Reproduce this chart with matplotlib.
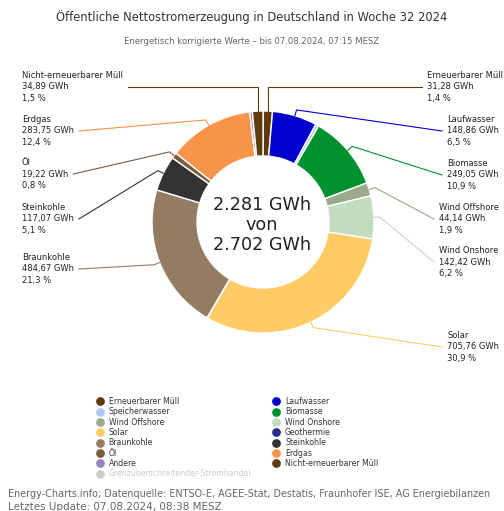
import matplotlib
matplotlib.use("Agg")
import matplotlib.pyplot as plt
from matplotlib.lines import Line2D
import numpy as np

# data (pie order, clockwise from 12 o'clock)
names = ["Erneuerbarer Müll", "Laufwasser", "Speicherwasser", "Biomasse",
         "Wind Offshore", "Wind Onshore", "Solar", "Geothermie", "Braunkohle",
         "Steinkohle", "Öl", "Erdgas", "Andere", "Nicht-erneuerbarer Müll"]
gwh = [31.28, 148.86, 10.5, 249.05, 44.14, 142.42, 705.76, 0.59, 484.67,
       117.07, 19.22, 283.75, 8.8, 34.89]
pct = [1.4, 6.5, 0.5, 10.9, 1.9, 6.2, 30.9, 0.0, 21.3, 5.1, 0.8, 12.4, 0.4, 1.5]
colors = ["#5e3a0c", "#0000cc", "#a9c8f5", "#00912f", "#9aab8d", "#c3dbbf",
          "#fecb65", "#2b2b8c", "#947c63", "#333333", "#7b5d3e", "#f7944a",
          "#9d80c2", "#5e3a0c"]
total_text = "2.281 GWh\nvon\n2.702 GWh"

legend_names = names + ["Grenzüberschreitender-Stromhandel"]
legend_colors = colors + ["#cccccc"]

# label layout: name -> (text x, middle line y, side)
label_layout = {
    "Nicht-erneuerbarer Müll": (22, 87, "left"),
    "Erdgas": (22, 131, "left"),
    "Öl": (22, 174, "left"),
    "Steinkohle": (22, 219, "left"),
    "Braunkohle": (22, 269, "left"),
    "Erneuerbarer Müll": (427, 87, "right"),
    "Laufwasser": (447, 131, "right"),
    "Biomasse": (447, 175, "right"),
    "Wind Offshore": (439, 219, "right"),
    "Wind Onshore": (439, 262, "right"),
    "Solar": (447, 347, "right"),
}

W, H = 504, 511
cx, cy, R, ring = 263, 222, 111, 45

fig = plt.figure(figsize=(W / 100, H / 100), dpi=100)
ax = fig.add_axes([0, 0, 1, 1])

wedges, _ = ax.pie(gwh, colors=colors, startangle=-90, counterclock=True,
                   radius=R, center=(cx, cy),
                   wedgeprops=dict(width=ring, edgecolor="white", linewidth=1))
ax.set_xlim(0, W)
ax.set_ylim(H, 0)
ax.set_aspect("auto")
ax.axis("off")

ax.text(262, 225, total_text, ha="center", va="center", fontsize=12.7,
        color="#222222", linespacing=1.15)

fig.canvas.draw()
renderer = fig.canvas.get_renderer()
inv = ax.transData.inverted()

for name, w in zip(names, wedges):
    if name not in label_layout:
        continue
    tx, ty, side = label_layout[name]
    i = names.index(name)
    lab = "%s\n%s GWh\n%s %%" % (name, ("%.2f" % gwh[i]).replace(".", ","),
                                 ("%.1f" % pct[i]).replace(".", ","))
    t = ax.text(tx, ty, lab, ha="left", va="center", fontsize=6.0,
                color="#222222", linespacing=1.42)
    bb = t.get_window_extent(renderer)
    (x0, _), (x1, _) = inv.transform([[bb.x0, bb.y0], [bb.x1, bb.y1]])
    ax_ = x1 + 5 if side == "left" else x0 - 5

    th = np.radians((w.theta1 + w.theta2) / 2)
    ex, ey = cx + R * np.cos(th), cy + R * np.sin(th)
    if name in ("Erneuerbarer Müll", "Nicht-erneuerbarer Müll"):
        kx, ky = ex, ty
    else:
        kx, ky = cx + (R + 6) * np.cos(th), cy + (R + 6) * np.sin(th)
    ax.plot([ex, kx, ax_], [ey, ky, ty], color=colors[i], lw=0.8,
            solid_joinstyle="miter")

fig.text(0.5, 1 - 17 / H, "Öffentliche Nettostromerzeugung in Deutschland in Woche 32 2024",
         ha="center", va="center", fontsize=8.3, color="#333333")
fig.text(0.5, 1 - 41 / H, "Energetisch korrigierte Werte – bis 07.08.2024, 07:15 MESZ",
         ha="center", va="center", fontsize=6.1, color="#666666")

# legend: column-major order for two columns
order = [0, 2, 4, 6, 8, 10, 12, 14, 1, 3, 5, 7, 9, 11, 13]
handles = [Line2D([], [], marker="o", ls="none", markersize=6.3,
                  markerfacecolor=legend_colors[k], markeredgecolor="none")
           for k in order]
labels = [legend_names[k] for k in order]
leg = fig.legend(handles, labels, ncol=2, loc="upper left",
                 bbox_to_anchor=(95 / W, 1 - 397 / H), frameon=False,
                 fontsize=5.6, handlelength=1.2, handletextpad=0.55,
                 labelspacing=0.17, columnspacing=2.6, borderpad=0,
                 borderaxespad=0)
for txt, k in zip(leg.get_texts(), order):
    txt.set_color("#cccccc" if k == 14 else "#333333")

fig.text(8 / W, 1 - 494 / H,
         "Energy-Charts.info; Datenquelle: ENTSO-E, AGEE-Stat, Destatis, Fraunhofer ISE, AG Energiebilanzen",
         ha="left", va="center", fontsize=6.9, color="#666666")
fig.text(8 / W, 1 - 507 / H, "Letztes Update: 07.08.2024, 08:38 MESZ",
         ha="left", va="center", fontsize=7.5, color="#666666")

fig.savefig("out.png", dpi=100)
